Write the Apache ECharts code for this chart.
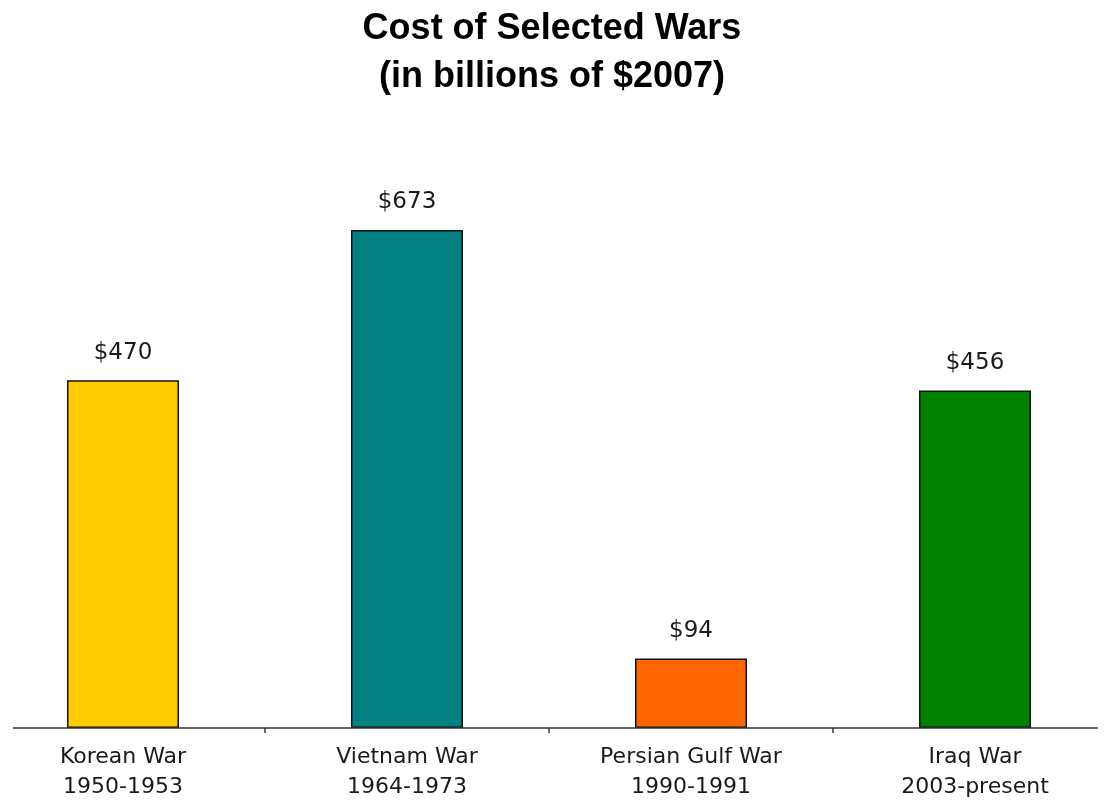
<!DOCTYPE html>
<html>
<head>
<meta charset="utf-8">
<script src="https://cdn.jsdelivr.net/npm/echarts@6/dist/echarts.min.js"></script>
<style>html,body{margin:0;padding:0;background:#fff}#c{width:1104px;height:804px}</style>
</head>
<body>
<div id="c"></div>
<script>
const categories = ['Korean War\n1950-1953', 'Vietnam War\n1964-1973', 'Persian Gulf War\n1990-1991', 'Iraq War\n2003-present'];
const values = [470, 673, 94, 456];
const barColors = ['#FFCC00', '#008080', '#FF6600', '#008000'];
const titleText = 'Cost of Selected Wars\n(in billions of $2007)';

const chart = echarts.init(document.getElementById('c'), null, {renderer: 'canvas'});
chart.setOption({
  backgroundColor: '#ffffff',
  animation: false,
  title: {
    text: titleText,
    left: 'center',
    top: 0,
    textStyle: {fontFamily: 'Liberation Sans, Arial', fontWeight: 'bold', fontSize: 36, lineHeight: 48, color: '#000'}
  },
  grid: {left: -19, width: 1136, top: 136, bottom: 76, containLabel: false, outerBoundsMode: 'none'},
  xAxis: {
    type: 'category',
    data: categories,
    axisLine: {show: false},
    axisTick: {show: true, length: 5, interval: 0, lineStyle: {color: '#333', width: 1.5}},
    axisLabel: {interval: 0, margin: 14, fontFamily: 'DejaVu Sans', fontSize: 22, lineHeight: 30, color: '#1a1a1a'}
  },
  yAxis: {
    type: 'value', min: 0, max: 800, show: false, splitLine: {show: false}
  },
  graphic: [{
    type: 'line',
    shape: {x1: 13, y1: 728, x2: 1098, y2: 728},
    style: {stroke: '#333', lineWidth: 1.5},
    z: 10
  }],
  series: [{
    type: 'bar',
    data: values.map((v, i) => ({value: v, itemStyle: {color: barColors[i]}})),
    barWidth: 112,
    itemStyle: {borderColor: '#111', borderWidth: 1.5},
    label: {
      show: true, position: 'top', distance: 16,
      formatter: p => '$' + p.value,
      fontFamily: 'DejaVu Sans', fontSize: 23, color: '#1a1a1a'
    }
  }]
});
</script>
</body>
</html>
